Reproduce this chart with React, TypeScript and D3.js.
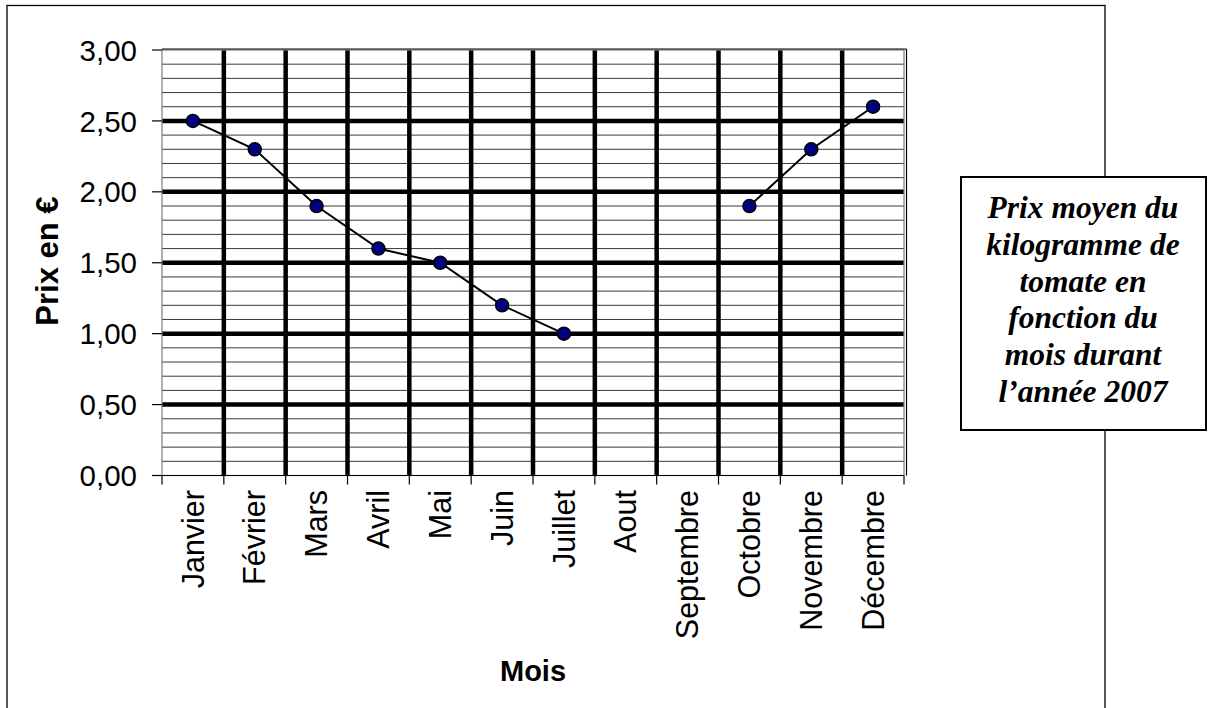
import * as d3 from "d3";

const months = ["Janvier", "Février", "Mars", "Avril", "Mai", "Juin", "Juillet", "Aout", "Septembre", "Octobre", "Novembre", "Décembre"];
const prices: (number | null)[] = [2.5, 2.3, 1.9, 1.6, 1.5, 1.2, 1.0, null, null, 1.9, 2.3, 2.6];
const yTicks = [0, 0.5, 1, 1.5, 2, 2.5, 3];
const titleLines = ["Prix moyen du", "kilogramme de", "tomate en", "fonction du", "mois durant", "l\u2019année 2007"];

const W = 1210;
const H = 708;
const plot = { left: 162, right: 904, top: 50, bottom: 475.5 };
const sans = "Arial, 'Liberation Sans', sans-serif";
const serif = "'Times New Roman', 'Liberation Serif', serif";

export default function App() {
  const x = d3.scaleBand<string>().domain(months).range([plot.left, plot.right]);
  const y = d3.scaleLinear().domain([0, 3]).range([plot.bottom, plot.top]);
  const fmt = (v: number) => d3.format(".2f")(v).replace(".", ",");
  const cx = (m: string) => (x(m) ?? 0) + x.bandwidth() / 2;

  const minor = d3.range(1, 30).map((i) => i / 10);
  const boundaries = months.map((m) => x(m) ?? 0).concat([plot.right]);

  const pts = months.map((m, i) => ({ m, v: prices[i] }));
  const line = d3
    .line<{ m: string; v: number | null }>()
    .defined((d) => d.v !== null)
    .x((d) => cx(d.m))
    .y((d) => y(d.v as number));

  return (
    <svg width={W} height={H} style={{ position: "absolute", left: 0, top: 0, background: "white" }}>
      {/* outer frame */}
      <rect x={7} y={5.5} width={1098} height={720} fill="white" stroke="#000" strokeWidth={1.3} />

      {/* plot background and minor grid */}
      <rect x={plot.left} y={plot.top} width={plot.right - plot.left} height={plot.bottom - plot.top} fill="white" />
      {minor.map((v) => (
        <line key={"mn" + v} x1={plot.left} x2={plot.right} y1={y(v)} y2={y(v)} stroke="#3a3a3a" strokeWidth={1} />
      ))}
      {yTicks.slice(1, -1).map((v) => (
        <line key={"mj" + v} x1={plot.left} x2={plot.right} y1={y(v)} y2={y(v)} stroke="#000" strokeWidth={4.5} />
      ))}
      {boundaries.slice(1, -1).map((b, i) => (
        <line key={"vb" + i} x1={b} x2={b} y1={plot.top} y2={plot.bottom} stroke="#000" strokeWidth={4.5} />
      ))}
      <rect x={plot.left} y={plot.top} width={plot.right - plot.left} height={plot.bottom - plot.top} fill="none" stroke="#808080" strokeWidth={1.2} />
      <line x1={plot.left} x2={plot.right + 2.5} y1={plot.top - 1} y2={plot.top - 1} stroke="#000" strokeWidth={1.2} />
      <line x1={plot.right + 2.5} x2={plot.right + 2.5} y1={plot.top - 1} y2={plot.bottom} stroke="#000" strokeWidth={1.2} />

      {/* axes */}
      <line x1={152} x2={plot.right} y1={plot.bottom} y2={plot.bottom} stroke="#000" strokeWidth={1.2} />
      {yTicks.map((v) => (
        <g key={"yt" + v}>
          <line x1={152} x2={plot.left} y1={y(v)} y2={y(v)} stroke="#000" strokeWidth={1.2} />
          <text x={137} y={y(v)} dy="0.36em" textAnchor="end" fontFamily={sans} fontSize={29.5} fill="#000">
            {fmt(v)}
          </text>
        </g>
      ))}
      {boundaries.map((b, i) => (
        <line key={"xt" + i} x1={b} x2={b} y1={plot.bottom} y2={plot.bottom + 9} stroke="#000" strokeWidth={1.2} />
      ))}
      {months.map((m) => (
        <text
          key={"xl" + m}
          transform={`translate(${cx(m)},490) rotate(-90)`}
          textAnchor="end"
          dy="0.35em"
          fontFamily={sans}
          fontSize={30.5}
          fill="#000"
        >
          {m}
        </text>
      ))}

      {/* series */}
      <path d={line(pts) ?? ""} fill="none" stroke="#000" strokeWidth={2} />
      {pts
        .filter((d) => d.v !== null)
        .map((d) => (
          <circle key={"pt" + d.m} cx={cx(d.m)} cy={y(d.v as number)} r={6.5} fill="#000080" stroke="#000" strokeWidth={1.5} />
        ))}

      {/* axis titles */}
      <text transform="translate(58,261) rotate(-90)" textAnchor="middle" fontFamily={sans} fontWeight="bold" fontSize={31} fill="#000">
        Prix en €
      </text>
      <text x={533} y={681} textAnchor="middle" fontFamily={sans} fontWeight="bold" fontSize={29} fill="#000">
        Mois
      </text>

      {/* title box */}
      <rect x={961} y={177} width={245} height={253} fill="white" stroke="#000" strokeWidth={2} />
      {titleLines.map((t, i) => (
        <text
          key={"tl" + i}
          x={1083}
          y={218 + i * 36.8}
          textAnchor="middle"
          fontFamily={serif}
          fontStyle="italic"
          fontWeight="bold"
          fontSize={31.5}
          fill="#000"
        >
          {t}
        </text>
      ))}
    </svg>
  );
}
